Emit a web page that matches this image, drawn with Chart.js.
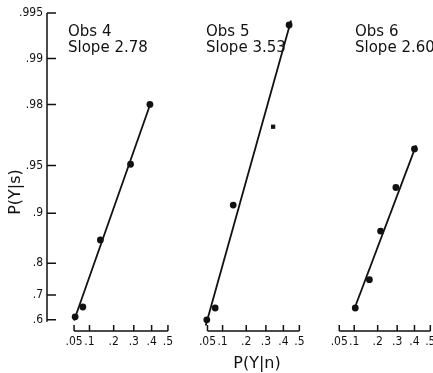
<!DOCTYPE html>
<html>
<head>
<meta charset="utf-8">
<script src="https://cdn.jsdelivr.net/npm/chart.js@4.4.1/dist/chart.umd.min.js"></script>
<style>
  html, body { margin: 0; padding: 0; background: #fff; }
  #wrap { position: relative; width: 433px; height: 373px; overflow: hidden; }
  #wrap canvas { position: absolute; top: 0; }
</style>
</head>
<body>
<div id="wrap">
  <canvas id="obs4" width="184" height="373" style="left:0px"></canvas>
  <canvas id="obs5" width="160" height="373" style="left:177px"></canvas>
  <canvas id="obs6" width="137" height="373" style="left:309px"></canvas>
</div>
<script>
// values: P(Y|n) on x, P(Y|s) on y
var obsNames = ['Obs 4', 'Obs 5', 'Obs 6'];
var slopes = ['2.78', '3.53', '2.60'];

var obs4X = [0.053, 0.077, 0.142, 0.283, 0.390];
var obs4Y = [0.613, 0.654, 0.854, 0.951, 0.980];
var fit4X = [0.050, 0.395];
var fit4Y = [0.597, 0.9805];

var obs5X = [0.048, 0.074, 0.142, 0.340, 0.435];
var obs5Y = [0.600, 0.650, 0.911, 0.972, 0.994];
var fit5X = [0.045, 0.447];
var fit5Y = [0.575, 0.9944];

var obs6X = [0.104, 0.162, 0.214, 0.293, 0.400];
var obs6Y = [0.650, 0.752, 0.871, 0.931, 0.961];
var fit6X = [0.100, 0.410];
var fit6Y = [0.645, 0.963];

var yTicks = [0.6, 0.7, 0.8, 0.9, 0.95, 0.98, 0.99, 0.995];
var yTickLabels = ['.6', '.7', '.8', '.9', '.95', '.98', '.99', '.995'];
var xTicks = [0.05, 0.1, 0.2, 0.3, 0.4, 0.5];
var xTickLabels = ['.05', '.1', '.2', '.3', '.4', '.5'];

// the printed axes are stretched by hand, these two curves follow them
function ty(p) { return -Math.log(1 - p) + 0.6 * Math.log(p); }
function tx(p) { return Math.pow(p, 0.65); }
var X_PX = 195.5; // pixels per unit of tx()

var ink = '#111';
var tickFont = { family: '"DejaVu Sans Condensed", "DejaVu Sans"', size: 12 };

var panelAxes = {
    id: 'panelAxes',
    afterDraw: function(chart, args, opts) {
        var ctx = chart.ctx, xs = chart.scales.x, ys = chart.scales.y;
        var area = chart.chartArea;
        ctx.save();
        ctx.strokeStyle = ink;
        ctx.lineWidth = 1.5;
        // x axis runs only from .05 to .5, ticks point up
        var x0 = xs.getPixelForValue(tx(xTicks[0]));
        var x1 = xs.getPixelForValue(tx(xTicks[xTicks.length - 1]));
        ctx.beginPath();
        ctx.moveTo(x0, area.bottom);
        ctx.lineTo(x1, area.bottom);
        xTicks.forEach(function(v) {
            var px = xs.getPixelForValue(tx(v));
            ctx.moveTo(px, area.bottom);
            ctx.lineTo(px, area.bottom - 6);
        });
        ctx.stroke();

        if (opts.yAxis) {
            var top = ys.getPixelForValue(ty(yTicks[yTicks.length - 1]));
            var low = ys.getPixelForValue(ty(yTicks[0])) + 2;
            ctx.beginPath();
            ctx.moveTo(area.left, top);
            ctx.lineTo(area.left, low);
            yTicks.forEach(function(v) {
                var py = ys.getPixelForValue(ty(v));
                ctx.moveTo(area.left, py);
                ctx.lineTo(area.left + 9, py);
            });
            ctx.stroke();

            ctx.fillStyle = ink;
            ctx.font = '16px "DejaVu Sans"';
            ctx.textAlign = 'center';
            ctx.textBaseline = 'middle';
            ctx.translate(area.left - 31, (area.top + area.bottom) / 2 + 20);
            ctx.rotate(-Math.PI / 2);
            ctx.fillText('P(Y|s)', 0, 0);
            ctx.setTransform(1, 0, 0, 1, 0, 0);
        }

        ctx.fillStyle = ink;
        ctx.font = '15px "DejaVu Sans"';
        ctx.textAlign = 'left';
        ctx.textBaseline = 'middle';
        ctx.fillText(opts.name, area.left + opts.dx, 32);
        ctx.fillText('Slope ' + opts.slope, area.left + opts.dx, 48);
        ctx.restore();
    }
};

function makePanel(id, i, xs, ys, fx, fy, plotWidth, showY, showTitle, dx, styles) {
    var pts = xs.map(function(v, k) { return { x: tx(v), y: ty(ys[k]) }; });
    var fit = fx.map(function(v, k) { return { x: tx(v), y: ty(fy[k]) }; });
    return new Chart(document.getElementById(id), {
        type: 'scatter',
        data: {
            datasets: [{
                data: fit,
                showLine: true,
                borderColor: ink,
                borderWidth: 1.8,
                pointRadius: 0
            }, {
                data: pts,
                backgroundColor: ink,
                borderColor: ink,
                pointStyle: styles || 'circle',
                pointRadius: styles ? styles.map(function(s) { return s === 'rect' ? 3 : 3.4; }) : 3.4,
                borderWidth: 0
            }]
        },
        options: {
            responsive: false,
            animation: false,
            layout: { padding: { top: 13, left: 0, right: 0, bottom: 0 } },
            plugins: {
                legend: { display: false },
                tooltip: { enabled: false },
                panelAxes: { yAxis: showY, name: obsNames[i], slope: slopes[i], dx: dx }
            },
            scales: {
                x: {
                    type: 'linear',
                    min: 0,
                    max: plotWidth / X_PX,
                    grid: { display: false, drawTicks: false },
                    border: { display: false },
                    ticks: {
                        padding: 4,
                        color: ink,
                        font: tickFont,
                        autoSkip: false,
                        maxRotation: 0,
                        minRotation: 0,
                        callback: function(v, k) { return xTickLabels[k]; }
                    },
                    afterBuildTicks: function(s) {
                        s.ticks = xTicks.map(function(v) { return { value: tx(v) }; });
                    },
                    afterFit: function(s) { s.height = 42; },
                    title: {
                        display: showTitle,
                        text: 'P(Y|n)',
                        color: ink,
                        font: { family: '"DejaVu Sans"', size: 16 },
                        padding: { top: 0, bottom: 0 }
                    }
                },
                y: {
                    type: 'linear',
                    display: showY,
                    min: ty(0.55),
                    max: ty(0.995),
                    grid: { display: false, drawTicks: false },
                    border: { display: false },
                    ticks: {
                        padding: 4,
                        color: ink,
                        font: tickFont,
                        autoSkip: false,
                        callback: function(v, k) { return yTickLabels[k]; }
                    },
                    afterBuildTicks: function(s) {
                        s.ticks = yTicks.map(function(v) { return { value: ty(v) }; });
                    },
                    afterFit: function(s) { s.width = showY ? 47 : 0; }
                }
            }
        },
        plugins: [panelAxes]
    });
}

makePanel('obs4', 0, obs4X, obs4Y, fit4X, fit4Y, 137, true, false, 21);
makePanel('obs5', 1, obs5X, obs5Y, fit5X, fit5Y, 160, false, true, 25,
          ['circle', 'circle', 'circle', 'rect', 'circle']);
makePanel('obs6', 2, obs6X, obs6Y, fit6X, fit6Y, 137, false, false, 42);
</script>
</body>
</html>
